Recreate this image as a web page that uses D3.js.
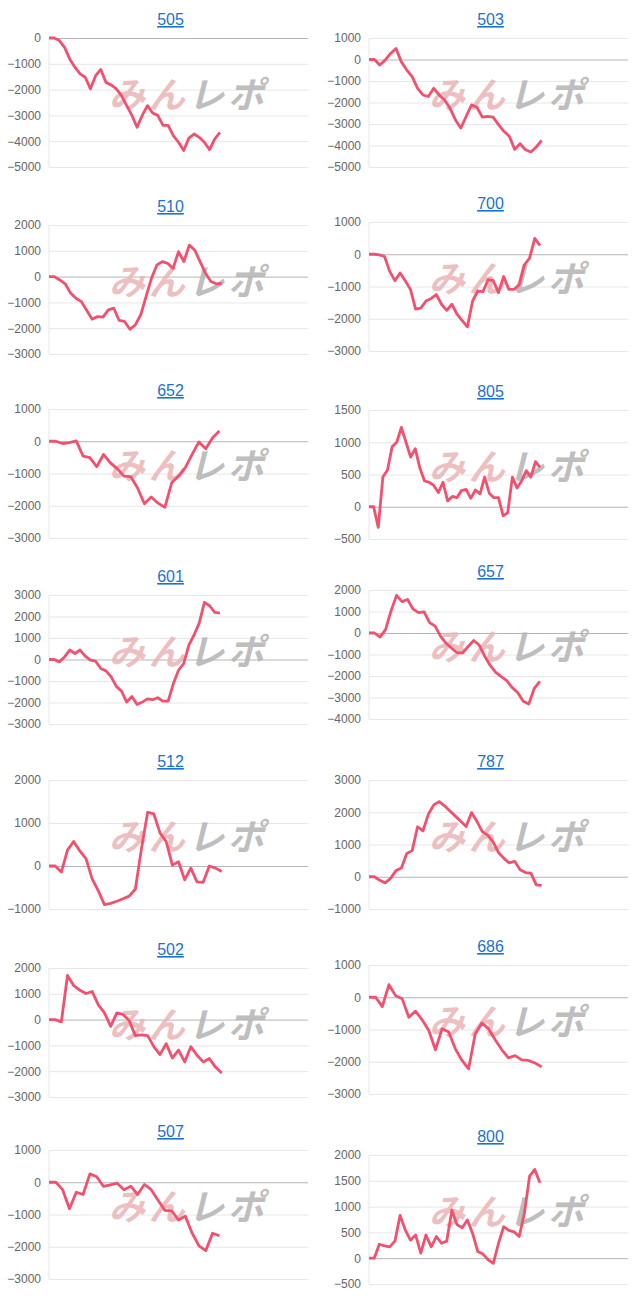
<!DOCTYPE html>
<html>
<head>
<meta charset="utf-8">
<script src="https://cdn.jsdelivr.net/npm/d3@7"></script>
<style>
  body { margin: 0; background: #fff; }
  svg { display: block; font-family: "Liberation Sans", Arial, sans-serif; }
</style>
</head>
<body>
<svg id="chart" width="640" height="1303"></svg>
<script>
// machine numbers, in panel order (left, right, left, right ...)
const titles = ["505", "503", "510", "700", "652", "805", "601", "657", "512", "787", "502", "686", "507", "800"];

const yDomains = [
  [-5000, 0], [-5000, 1000], [-3000, 2000], [-3000, 1000], [-3000, 1000], [-500, 1500], [-3000, 3000],
  [-4000, 2000], [-1000, 2000], [-1000, 3000], [-3000, 2000], [-3000, 1000], [-3000, 1000], [-500, 2000]
];
const tickSteps = [1000, 1000, 1000, 1000, 1000, 500, 1000, 1000, 1000, 1000, 1000, 1000, 1000, 500];

const s505 = [0, 0, -100, -360, -810, -1130, -1390, -1520, -1970, -1460, -1220, -1720, -1820, -1970, -2230, -2620, -3000, -3460, -3000, -2620, -2910, -3000, -3390, -3390, -3780, -4040, -4360, -3880, -3720, -3850, -4040, -4330, -3910, -3660];
const s503 = [0, 0, -260, -30, 280, 510, -110, -490, -800, -1340, -1650, -1720, -1340, -1650, -1880, -2260, -2800, -3190, -2650, -2110, -2220, -2680, -2650, -2680, -3030, -3340, -3570, -4180, -3920, -4200, -4300, -4070, -3760];
const s510 = [0, 0, -130, -280, -640, -840, -970, -1310, -1650, -1550, -1570, -1290, -1220, -1700, -1740, -2040, -1870, -1480, -770, -60, 450, 580, 510, 320, 970, 580, 1220, 1030, 580, 130, -190, -280, -260];
const s700 = [0, 0, -20, -70, -530, -820, -580, -820, -1090, -1700, -1670, -1450, -1370, -1250, -1550, -1740, -1550, -1860, -2060, -2250, -1450, -1140, -1160, -790, -820, -1190, -690, -1090, -1090, -940, -330, -120, 490, 270];
const s652 = [0, 0, -70, -40, 10, -460, -510, -790, -410, -670, -850, -1080, -1100, -1450, -1940, -1730, -1920, -2050, -1290, -1080, -820, -410, -20, -230, 110, 320];
const s805 = [0, 0, -320, 460, 570, 930, 1000, 1230, 1000, 770, 900, 600, 400, 380, 330, 220, 380, 90, 160, 140, 250, 270, 130, 260, 200, 460, 210, 140, 140, -140, -90, 460, 290, 400, 560, 460, 700, 610];
const s601 = [0, 0, -110, 120, 440, 280, 440, 160, -30, -80, -420, -530, -810, -1250, -1470, -1980, -1720, -2090, -1980, -1830, -1870, -1780, -1940, -1940, -1130, -500, -190, 670, 1140, 1690, 2660, 2500, 2190, 2160];
const s657 = [0, 0, -190, 160, 1030, 1750, 1460, 1560, 1110, 950, 980, 480, 320, -160, -480, -710, -920, -920, -630, -350, -560, -1080, -1510, -1830, -2030, -2220, -2540, -2780, -3170, -3300, -2570, -2250];
const s512 = [0, 0, -140, 370, 570, 350, 170, -300, -580, -900, -870, -820, -760, -700, -540, 410, 1250, 1210, 770, 570, 20, 100, -320, -50, -370, -380, 0, -50, -130];
const s787 = [0, 0, -110, -190, -50, 190, 270, 720, 810, 1550, 1420, 1940, 2230, 2330, 2200, 2040, 1880, 1720, 1560, 1990, 1720, 1400, 1290, 1080, 750, 570, 430, 480, 220, 130, 110, -250, -270];
const s502 = [0, 0, -90, 1710, 1320, 1140, 1010, 1090, 570, 260, -260, 260, 200, -40, -620, -590, -620, -1050, -1360, -930, -1490, -1180, -1640, -1050, -1380, -1640, -1510, -1840, -2070];
const s686 = [0, 0, -290, 390, 50, -50, -620, -430, -700, -1030, -1630, -980, -1080, -1600, -1960, -2220, -1130, -800, -980, -1320, -1630, -1880, -1810, -1940, -1960, -2040, -2160];
const s507 = [0, 0, -230, -820, -310, -380, 260, 170, -130, -80, -30, -230, -120, -380, -70, -230, -560, -870, -890, -1170, -1050, -1580, -1970, -2120, -1580, -1660];
const s800 = [0, 0, 270, 240, 220, 330, 830, 550, 350, 450, 100, 450, 220, 420, 290, 330, 930, 650, 590, 740, 480, 130, 80, -30, -100, 290, 610, 540, 510, 420, 870, 1590, 1720, 1460];

const series = [s505, s503, s510, s700, s652, s805, s601, s657, s512, s787, s502, s686, s507, s800];

// layout: top gridline y per panel, column x ranges
const plotTops = [38, 38, 225, 222, 409, 410, 595, 590, 780, 780, 968, 965, 1150, 1155];
const plotH = 129;
const cols = [{ x0: 49, x1: 308 }, { x0: 369, x1: 628 }];

const svg = d3.select("#chart");

series.forEach((vals, i) => {
  const col = cols[i % 2];
  const top = plotTops[i];
  const g = svg.append("g");

  const x = d3.scaleLinear()
    .domain([0, Math.round((vals.length - 1) * 1.5)])
    .range([col.x0, col.x1]);

  const y = d3.scaleLinear()
    .domain(yDomains[i])
    .range([top + plotH, top]);

  const [lo, hi] = yDomains[i];
  const ticks = d3.range(lo, hi + 1, tickSteps[i]);

  // grid + labels
  const axis = g.append("g")
    .attr("transform", `translate(${col.x0},0)`)
    .call(d3.axisLeft(y).tickValues(ticks).tickSize(-(col.x1 - col.x0)).tickPadding(8).tickFormat(d3.format("d")));
  axis.select(".domain").remove();
  axis.selectAll(".tick line")
    .attr("stroke", d => d === 0 ? "#b5b5b5" : "#e6e6e6");
  axis.selectAll(".tick text")
    .attr("fill", "#666").style("font-size", "12px");

  g.append("line")
    .attr("x1", col.x0).attr("x2", col.x0)
    .attr("y1", top).attr("y2", top + plotH)
    .attr("stroke", "#e6e6e6");

  // title
  g.append("text")
    .attr("x", (col.x0 + col.x1) / 2 - 8)
    .attr("y", top - 13)
    .attr("text-anchor", "middle")
    .attr("fill", "#1a73d0")
    .attr("text-decoration", "underline")
    .style("font-size", "16px")
    .text(titles[i]);

  // watermark
  const wm = g.append("text")
    .attr("x", col.x0 + 60)
    .attr("y", top + 70)
    .attr("textLength", 155)
    .style("font-size", "36px")
    .style("font-weight", "bold")
    .style("font-style", "italic")
    .style("font-family", "'Noto Sans CJK JP', sans-serif");
  wm.append("tspan").attr("fill", "#eab6b9").attr("fill-opacity", 0.9).text("みん");
  wm.append("tspan").attr("fill", "#b5b5b5").attr("fill-opacity", 0.9).text("レポ");

  const line = d3.line()
    .x((d, k) => x(k))
    .y(d => y(d));

  g.append("path")
    .datum(vals)
    .attr("fill", "none")
    .attr("stroke", "#f2506e")
    .attr("stroke-width", 2.8)
    .attr("stroke-linejoin", "round")
    .attr("d", line);
});
</script>
</body>
</html>
